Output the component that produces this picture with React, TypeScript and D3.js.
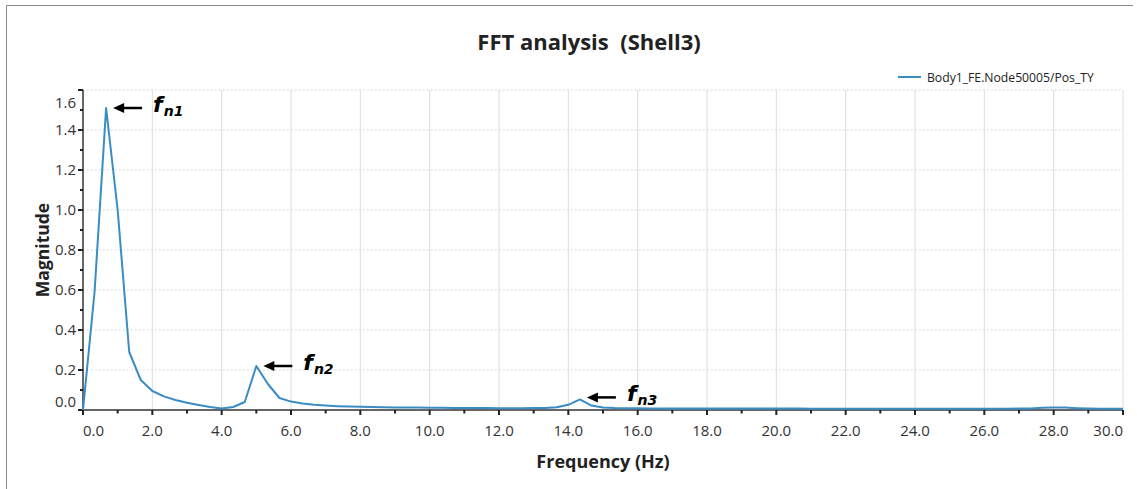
import * as d3 from "d3";
import React from "react";

// frequency bins are 1/3 Hz apart (bin index k -> k/3 Hz)
const binStep = 1 / 3;
const magnitudes = [
  0.0, 0.59, 1.51, 1.0, 0.29, 0.15, 0.095, 0.068, 0.05, 0.036,
  0.025, 0.015, 0.007, 0.015, 0.04, 0.22, 0.13, 0.06, 0.042, 0.032,
  0.026, 0.022, 0.019, 0.017, 0.016, 0.015, 0.014, 0.013, 0.012, 0.012,
  0.011, 0.011, 0.01, 0.01, 0.01, 0.01, 0.009, 0.009, 0.009, 0.01,
  0.01, 0.014, 0.026, 0.053, 0.022, 0.013, 0.01, 0.009, 0.009, 0.008,
  0.008, 0.008, 0.008, 0.008, 0.007, 0.007, 0.007, 0.007, 0.007, 0.007,
  0.007, 0.007, 0.007, 0.006, 0.006, 0.006, 0.006, 0.006, 0.006, 0.006,
  0.006, 0.006, 0.006, 0.006, 0.006, 0.006, 0.006, 0.006, 0.006, 0.006,
  0.006, 0.007, 0.008, 0.011, 0.013, 0.012, 0.009, 0.007, 0.006, 0.006,
  0.006,
];

const xTicks = [0, 2, 4, 6, 8, 10, 12, 14, 16, 18, 20, 22, 24, 26, 28, 30];
const xMinorTicks = [1, 3, 5, 7, 9, 11, 13, 15, 17, 19, 21, 23, 25, 27, 29];
const yTicks = [0, 0.2, 0.4, 0.6, 0.8, 1.0, 1.2, 1.4, 1.6];
const yMinorTicks = [0.1, 0.3, 0.5, 0.7, 0.9, 1.1, 1.3, 1.5];

const peaks = [
  { bin: 2, label: "1" },
  { bin: 15, label: "2" },
  { bin: 43, label: "3" },
];

const title = "FFT analysis  (Shell3)";
const seriesName = "Body1_FE.Node50005/Pos_TY";
const lineColor = "#3a8cc4";
const font = "'Open Sans', 'Noto Sans', sans-serif";

const W = 1137;
const H = 489;
const left = 83;
const right = 1123;
const top = 90;
const bottom = 410;

export default function App() {
  const x = d3.scaleLinear().domain([0, 30]).range([left, right]);
  const y = d3.scaleLinear().domain([0, 1.6]).range([bottom, top]);

  const points: [number, number][] = magnitudes.map((m, k) => [k * binStep, m]);
  const line = d3
    .line<[number, number]>()
    .x((d) => x(d[0]))
    .y((d) => y(d[1]));

  return (
    <div style={{ position: "absolute", left: 0, top: 0 }}>
      <svg width={W} height={H} style={{ display: "block", background: "#fff" }}>
        {/* frame */}
        <line x1={6.5} y1={5.5} x2={1133} y2={5.5} stroke="#8a8a8a" />
        <line x1={6.5} y1={5.5} x2={6.5} y2={H} stroke="#8a8a8a" />

        <text
          x={589}
          y={50}
          textAnchor="middle"
          fontFamily={font}
          fontWeight="bold"
          fontSize={22}
          fill="#222"
          style={{ whiteSpace: "pre" }}
        >
          {title}
        </text>

        {/* legend */}
        <line x1={898} y1={77} x2={921} y2={77} stroke={lineColor} strokeWidth={2} />
        <text x={927} y={81.5} fontFamily={font} fontSize={12.2} fill="#222">
          {seriesName}
        </text>

        {/* grid */}
        {xTicks.slice(1).map((t) => (
          <line key={"gx" + t} x1={x(t)} x2={x(t)} y1={top} y2={bottom} stroke="#dcdcdc" />
        ))}
        {yTicks.slice(1).map((t) => (
          <line
            key={"gy" + t}
            x1={left}
            x2={right}
            y1={y(t)}
            y2={y(t)}
            stroke="#cfcfcf"
            strokeDasharray="1.5,2.5"
          />
        ))}

        {/* axes */}
        <line x1={left} x2={right} y1={bottom} y2={bottom} stroke="#333" strokeWidth={1.5} />
        <line x1={left} x2={left} y1={top} y2={bottom} stroke="#333" strokeWidth={1.5} />

        {xTicks.map((t) => (
          <line key={"xt" + t} x1={x(t)} x2={x(t)} y1={bottom} y2={bottom + 5} stroke="#222" strokeWidth={2} />
        ))}
        {xMinorTicks.map((t) => (
          <line key={"xm" + t} x1={x(t)} x2={x(t)} y1={bottom} y2={bottom + 3.5} stroke="#222" strokeWidth={2} />
        ))}
        {yTicks.map((t) => (
          <line key={"yt" + t} x1={left - 5} x2={left} y1={y(t)} y2={y(t)} stroke="#222" strokeWidth={2} />
        ))}
        {yMinorTicks.map((t) => (
          <line key={"ym" + t} x1={left - 3} x2={left} y1={y(t)} y2={y(t)} stroke="#222" strokeWidth={2} />
        ))}

        {xTicks.map((t, i) => {
          const anchor = i === 0 ? "start" : i === xTicks.length - 1 ? "end" : "middle";
          return (
            <text
              key={"xl" + t}
              x={x(t)}
              y={bottom + 26}
              textAnchor={anchor}
              fontFamily={font}
              fontSize={15}
              fill="#333"
            >
              {t.toFixed(1)}
            </text>
          );
        })}
        {yTicks.map((t) => {
          const cy = Math.min(Math.max(y(t), top + 13), bottom - 8);
          return (
            <text
              key={"yl" + t}
              x={left - 7}
              y={cy + 5}
              textAnchor="end"
              fontFamily={font}
              fontSize={15}
              fill="#333"
            >
              {t.toFixed(1)}
            </text>
          );
        })}

        <text
          x={(left + right) / 2}
          y={468}
          textAnchor="middle"
          fontFamily={font}
          fontWeight="bold"
          fontSize={18}
          fill="#222"
        >
          Frequency (Hz)
        </text>
        <text
          transform={`translate(49, ${(top + bottom) / 2}) rotate(-90)`}
          textAnchor="middle"
          fontFamily={font}
          fontWeight="bold"
          fontSize={17.5}
          fill="#222"
        >
          Magnitude
        </text>

        {/* series */}
        <path d={line(points) ?? ""} fill="none" stroke={lineColor} strokeWidth={2} strokeLinejoin="round" />

        {/* peak annotations */}
        {peaks.map((p) => {
          const px = x(p.bin * binStep) + 7;
          const py = y(magnitudes[p.bin]) - (p.bin === 43 ? 2 : 0);
          return (
            <g key={"pk" + p.label}>
              <line x1={px + 8} x2={px + 29} y1={py} y2={py} stroke="#000" strokeWidth={2.5} />
              <path d={`M${px},${py} L${px + 11},${py - 5} L${px + 11},${py + 5} Z`} fill="#000" />
              <text
                x={px + 40}
                y={py + 4}
                fontFamily="'DejaVu Sans', Verdana, sans-serif"
                fontWeight="bold"
                fontStyle="italic"
                fontSize={22}
                fill="#000"
              >
                f
                <tspan fontSize={14} dy={4} dx={1}>
                  {"n" + p.label}
                </tspan>
              </text>
            </g>
          );
        })}
      </svg>
    </div>
  );
}
